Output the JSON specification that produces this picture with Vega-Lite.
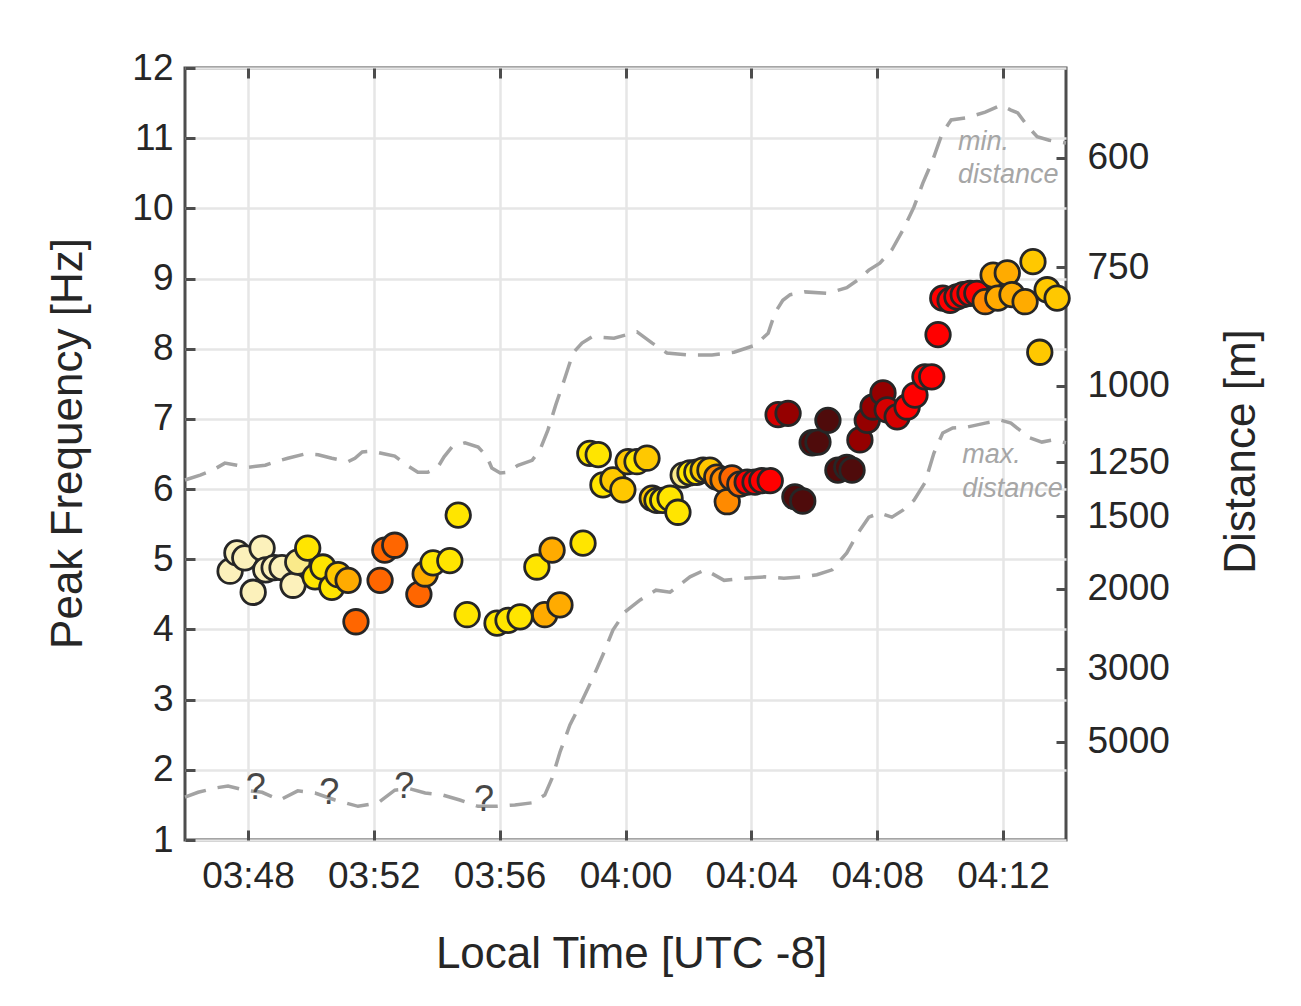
{
  "$schema": "https://vega.github.io/schema/vega-lite/v6.json",
  "width": 881,
  "height": 772,
  "autosize": {"type": "none"},
  "padding": {"left": 185, "top": 68, "right": 235, "bottom": 166},
  "background": "white",
  "config": {
    "font": "Liberation Sans",
    "view": {"stroke": "#4d4d4d", "strokeWidth": 3},
    "axis": {
      "labelFont": "Liberation Sans",
      "titleFont": "Liberation Sans",
      "labelFontSize": 37,
      "titleFontSize": 44,
      "labelColor": "#262626",
      "titleColor": "#262626",
      "titleFontWeight": "normal",
      "domain": false,
      "tickColor": "#4d4d4d",
      "tickWidth": 3,
      "tickSize": -10,
      "gridColor": "#e6e6e6",
      "gridWidth": 2.5,
      "labelOverlap": false
    }
  },
  "datasets": {
    "pts": [
      {"t":"03:47:26","f":4.83,"c":1},{"t":"03:47:39","f":5.09,"c":1},{"t":"03:47:54","f":5.02,"c":1},{"t":"03:48:10","f":4.53,"c":1},
      {"t":"03:48:27","f":5.16,"c":1},{"t":"03:48:34","f":4.85,"c":1},{"t":"03:48:50","f":4.88,"c":1},{"t":"03:49:05","f":4.88,"c":1},
      {"t":"03:49:26","f":4.63,"c":1},{"t":"03:49:35","f":4.96,"c":2},{"t":"03:49:54","f":5.16,"c":3},{"t":"03:50:08","f":4.75,"c":3},
      {"t":"03:50:23","f":4.89,"c":3},{"t":"03:50:40","f":4.60,"c":3},{"t":"03:50:52","f":4.78,"c":4},{"t":"03:51:11","f":4.70,"c":5},
      {"t":"03:51:26","f":4.11,"c":7},{"t":"03:52:12","f":4.70,"c":7},{"t":"03:52:21","f":5.13,"c":7},{"t":"03:52:40","f":5.20,"c":7},
      {"t":"03:53:26","f":4.50,"c":7},{"t":"03:53:38","f":4.79,"c":5},{"t":"03:53:53","f":4.95,"c":3},{"t":"03:54:25","f":4.98,"c":3},
      {"t":"03:54:41","f":5.63,"c":3},{"t":"03:54:58","f":4.21,"c":3},{"t":"03:55:55","f":4.09,"c":3},{"t":"03:56:16","f":4.13,"c":3},
      {"t":"03:56:39","f":4.18,"c":3},{"t":"03:57:11","f":4.89,"c":3},{"t":"03:57:26","f":4.21,"c":5},{"t":"03:57:40","f":5.13,"c":5},
      {"t":"03:57:55","f":4.35,"c":5},{"t":"03:58:39","f":5.23,"c":3},{"t":"03:58:52","f":6.51,"c":3},{"t":"03:59:08","f":6.49,"c":3},
      {"t":"03:59:17","f":6.06,"c":3},{"t":"03:59:36","f":6.13,"c":4},{"t":"03:59:55","f":5.99,"c":4},{"t":"04:00:05","f":6.39,"c":4},
      {"t":"04:00:22","f":6.39,"c":3},{"t":"04:00:41","f":6.44,"c":4},{"t":"04:00:51","f":5.87,"c":4},{"t":"04:01:00","f":5.84,"c":3},
      {"t":"04:01:11","f":5.84,"c":3},{"t":"04:01:25","f":5.87,"c":3},{"t":"04:01:40","f":5.67,"c":3},{"t":"04:01:50","f":6.20,"c":2},
      {"t":"04:02:03","f":6.23,"c":3},{"t":"04:02:16","f":6.24,"c":3},{"t":"04:02:28","f":6.27,"c":4},{"t":"04:02:41","f":6.27,"c":4},
      {"t":"04:02:54","f":6.17,"c":6},{"t":"04:03:06","f":6.13,"c":6},{"t":"04:03:14","f":5.82,"c":6},{"t":"04:03:23","f":6.16,"c":7},
      {"t":"04:03:38","f":6.07,"c":7},{"t":"04:03:52","f":6.10,"c":8},{"t":"04:04:07","f":6.10,"c":8},{"t":"04:04:20","f":6.12,"c":8},
      {"t":"04:04:36","f":6.12,"c":8},{"t":"04:04:51","f":7.06,"c":9},{"t":"04:05:10","f":7.08,"c":10},{"t":"04:05:23","f":5.89,"c":11},
      {"t":"04:05:38","f":5.83,"c":11},{"t":"04:05:56","f":6.66,"c":11},{"t":"04:06:07","f":6.67,"c":11},{"t":"04:06:26","f":6.98,"c":11},
      {"t":"04:06:45","f":6.27,"c":11},{"t":"04:07:02","f":6.31,"c":11},{"t":"04:07:12","f":6.27,"c":11},{"t":"04:07:27","f":6.70,"c":10},
      {"t":"04:07:41","f":6.98,"c":10},{"t":"04:07:52","f":7.17,"c":10},{"t":"04:08:11","f":7.37,"c":10},{"t":"04:08:19","f":7.13,"c":9},
      {"t":"04:08:38","f":7.03,"c":9},{"t":"04:08:57","f":7.17,"c":8},{"t":"04:09:12","f":7.34,"c":8},{"t":"04:09:31","f":7.60,"c":8},
      {"t":"04:09:44","f":7.60,"c":8},{"t":"04:09:56","f":8.20,"c":8},{"t":"04:10:05","f":8.72,"c":8},{"t":"04:10:19","f":8.69,"c":8},
      {"t":"04:10:32","f":8.74,"c":8},{"t":"04:10:44","f":8.77,"c":8},{"t":"04:10:57","f":8.79,"c":8},{"t":"04:11:10","f":8.79,"c":8},
      {"t":"04:11:26","f":8.67,"c":6},{"t":"04:11:41","f":9.05,"c":5},{"t":"04:11:50","f":8.72,"c":5},{"t":"04:12:08","f":9.08,"c":5},
      {"t":"04:12:17","f":8.77,"c":5},{"t":"04:12:42","f":8.67,"c":5},{"t":"04:12:57","f":9.24,"c":4},{"t":"04:13:10","f":7.95,"c":4},
      {"t":"04:13:24","f":8.84,"c":4},{"t":"04:13:43","f":8.72,"c":4}
    ],
    "dist": [
      {"s":"min","t":"03:46:00","f":6.13},{"s":"min","t":"03:46:29","f":6.20},{"s":"min","t":"03:46:53","f":6.27},{"s":"min","t":"03:47:16","f":6.37},
      {"s":"min","t":"03:47:39","f":6.34},{"s":"min","t":"03:48:00","f":6.31},{"s":"min","t":"03:48:33","f":6.34},{"s":"min","t":"03:48:52","f":6.39},
      {"s":"min","t":"03:49:16","f":6.44},{"s":"min","t":"03:49:49","f":6.50},{"s":"min","t":"03:50:14","f":6.49},{"s":"min","t":"03:50:40","f":6.44},
      {"s":"min","t":"03:51:11","f":6.39},{"s":"min","t":"03:51:24","f":6.44},{"s":"min","t":"03:51:38","f":6.53},{"s":"min","t":"03:51:57","f":6.54},
      {"s":"min","t":"03:52:21","f":6.50},{"s":"min","t":"03:52:40","f":6.47},{"s":"min","t":"03:53:03","f":6.34},{"s":"min","t":"03:53:24","f":6.24},
      {"s":"min","t":"03:53:43","f":6.24},{"s":"min","t":"03:54:02","f":6.31},{"s":"min","t":"03:54:14","f":6.46},{"s":"min","t":"03:54:29","f":6.60},
      {"s":"min","t":"03:54:54","f":6.66},{"s":"min","t":"03:55:19","f":6.60},{"s":"min","t":"03:55:36","f":6.46},{"s":"min","t":"03:55:45","f":6.30},
      {"s":"min","t":"03:56:01","f":6.23},{"s":"min","t":"03:56:14","f":6.24},{"s":"min","t":"03:56:35","f":6.34},{"s":"min","t":"03:57:02","f":6.41},
      {"s":"min","t":"03:57:17","f":6.56},{"s":"min","t":"03:57:32","f":6.84},{"s":"min","t":"03:57:47","f":7.20},{"s":"min","t":"03:58:03","f":7.55},
      {"s":"min","t":"03:58:20","f":7.94},{"s":"min","t":"03:58:37","f":8.08},{"s":"min","t":"03:58:56","f":8.17},{"s":"min","t":"03:59:38","f":8.15},
      {"s":"min","t":"04:00:22","f":8.24},{"s":"min","t":"04:00:51","f":8.08},{"s":"min","t":"04:01:19","f":7.94},{"s":"min","t":"04:02:01","f":7.91},
      {"s":"min","t":"04:02:45","f":7.91},{"s":"min","t":"04:03:27","f":7.95},{"s":"min","t":"04:04:07","f":8.05},{"s":"min","t":"04:04:32","f":8.22},
      {"s":"min","t":"04:04:45","f":8.51},{"s":"min","t":"04:05:00","f":8.69},{"s":"min","t":"04:05:14","f":8.77},{"s":"min","t":"04:05:42","f":8.81},
      {"s":"min","t":"04:06:26","f":8.79},{"s":"min","t":"04:07:02","f":8.87},{"s":"min","t":"04:07:23","f":8.98},{"s":"min","t":"04:07:44","f":9.12},
      {"s":"min","t":"04:08:05","f":9.22},{"s":"min","t":"04:08:28","f":9.41},{"s":"min","t":"04:08:49","f":9.69},{"s":"min","t":"04:09:10","f":10.02},
      {"s":"min","t":"04:09:27","f":10.36},{"s":"min","t":"04:09:46","f":10.69},{"s":"min","t":"04:10:04","f":11.07},{"s":"min","t":"04:10:21","f":11.26},
      {"s":"min","t":"04:10:49","f":11.29},{"s":"min","t":"04:11:26","f":11.37},{"s":"min","t":"04:11:56","f":11.47},{"s":"min","t":"04:12:15","f":11.40},
      {"s":"min","t":"04:12:28","f":11.36},{"s":"min","t":"04:12:48","f":11.16},{"s":"min","t":"04:13:05","f":11.02},{"s":"min","t":"04:13:28","f":10.97},
      {"s":"min","t":"04:14:00","f":10.93},
      {"s":"max","t":"03:46:00","f":1.61},{"s":"max","t":"03:46:25","f":1.68},{"s":"max","t":"03:46:57","f":1.74},{"s":"max","t":"03:47:22","f":1.77},
      {"s":"max","t":"03:47:54","f":1.71},{"s":"max","t":"03:48:27","f":1.68},{"s":"max","t":"03:49:01","f":1.57},{"s":"max","t":"03:49:35","f":1.70},
      {"s":"max","t":"03:50:08","f":1.67},{"s":"max","t":"03:50:46","f":1.57},{"s":"max","t":"03:51:30","f":1.48},{"s":"max","t":"03:52:08","f":1.53},
      {"s":"max","t":"03:52:40","f":1.71},{"s":"max","t":"03:53:09","f":1.73},{"s":"max","t":"03:53:38","f":1.67},{"s":"max","t":"03:54:12","f":1.64},
      {"s":"max","t":"03:54:44","f":1.57},{"s":"max","t":"03:55:19","f":1.48},{"s":"max","t":"03:55:55","f":1.48},{"s":"max","t":"03:56:29","f":1.50},
      {"s":"max","t":"03:57:02","f":1.53},{"s":"max","t":"03:57:26","f":1.64},{"s":"max","t":"03:57:40","f":1.88},{"s":"max","t":"03:57:55","f":2.25},
      {"s":"max","t":"03:58:14","f":2.64},{"s":"max","t":"03:58:33","f":2.92},{"s":"max","t":"03:58:56","f":3.28},{"s":"max","t":"03:59:17","f":3.64},
      {"s":"max","t":"03:59:36","f":3.99},{"s":"max","t":"03:59:59","f":4.25},{"s":"max","t":"04:00:28","f":4.42},{"s":"max","t":"04:00:58","f":4.56},
      {"s":"max","t":"04:01:25","f":4.53},{"s":"max","t":"04:02:03","f":4.75},{"s":"max","t":"04:02:32","f":4.85},{"s":"max","t":"04:03:08","f":4.70},
      {"s":"max","t":"04:03:44","f":4.73},{"s":"max","t":"04:04:26","f":4.75},{"s":"max","t":"04:05:02","f":4.73},{"s":"max","t":"04:05:38","f":4.75},
      {"s":"max","t":"04:06:05","f":4.78},{"s":"max","t":"04:06:34","f":4.85},{"s":"max","t":"04:07:02","f":5.09},{"s":"max","t":"04:07:23","f":5.37},
      {"s":"max","t":"04:07:44","f":5.60},{"s":"max","t":"04:08:05","f":5.66},{"s":"max","t":"04:08:28","f":5.60},{"s":"max","t":"04:08:49","f":5.70},
      {"s":"max","t":"04:09:10","f":5.84},{"s":"max","t":"04:09:31","f":6.09},{"s":"max","t":"04:09:48","f":6.51},{"s":"max","t":"04:10:05","f":6.80},
      {"s":"max","t":"04:10:24","f":6.87},{"s":"max","t":"04:10:49","f":6.88},{"s":"max","t":"04:11:26","f":6.94},{"s":"max","t":"04:11:56","f":6.98},
      {"s":"max","t":"04:12:15","f":6.94},{"s":"max","t":"04:12:32","f":6.84},{"s":"max","t":"04:12:51","f":6.73},{"s":"max","t":"04:13:14","f":6.67},
      {"s":"max","t":"04:13:35","f":6.70},{"s":"max","t":"04:14:00","f":6.66}
    ],
    "notes": [
      {"t":"04:10:34","f":10.83,"label":"min."},
      {"t":"04:10:34","f":10.36,"label":"distance"},
      {"t":"04:10:42","f":6.37,"label":"max."},
      {"t":"04:10:42","f":5.89,"label":"distance"}
    ],
    "qs": [
      {"t":"03:48:15","f":1.74,"label":"?"},
      {"t":"03:50:35","f":1.67,"label":"?"},
      {"t":"03:52:58","f":1.76,"label":"?"},
      {"t":"03:55:30","f":1.57,"label":"?"}
    ],
    "ticks": [
      {"d":600},{"d":750},{"d":1000},{"d":1250},{"d":1500},{"d":2000},{"d":3000},{"d":5000}
    ]
  },
  "layer": [
    {
      "encoding": {
        "x": {
          "field": "t", "type": "temporal",
          "scale": {"type": "utc", "domain": [
            {"year":1900,"month":1,"date":1,"hours":3,"minutes":46,"utc":true},
            {"year":1900,"month":1,"date":1,"hours":4,"minutes":14,"utc":true}]},
          "axis": {
            "orient": "bottom",
            "format": "%H:%M",
            "values": [
              {"year":1900,"month":1,"date":1,"hours":3,"minutes":48,"utc":true},
              {"year":1900,"month":1,"date":1,"hours":3,"minutes":52,"utc":true},
              {"year":1900,"month":1,"date":1,"hours":3,"minutes":56,"utc":true},
              {"year":1900,"month":1,"date":1,"hours":4,"minutes":0,"utc":true},
              {"year":1900,"month":1,"date":1,"hours":4,"minutes":4,"utc":true},
              {"year":1900,"month":1,"date":1,"hours":4,"minutes":8,"utc":true},
              {"year":1900,"month":1,"date":1,"hours":4,"minutes":12,"utc":true}],
            "grid": true,
            "labelPadding": 28,
            "title": "Local Time [UTC -8]",
            "titleX": 446, "titleY": 127,
            "titleBaseline": "alphabetic", "titleAlign": "center"
          }
        },
        "y": {
          "field": "f", "type": "quantitative",
          "scale": {"domain": [1, 12], "nice": false, "zero": false},
          "axis": {
            "orient": "left",
            "values": [1,2,3,4,5,6,7,8,9,10,11,12],
            "format": "d",
            "grid": true,
            "labelPadding": 22,
            "title": "Peak Frequency [Hz]",
            "titleAngle": 270,
            "titleX": -104, "titleY": 375,
            "titleBaseline": "alphabetic", "titleAlign": "center"
          }
        }
      },
      "layer": [
        {
          "data": {"name": "dist", "format": {"parse": {"t": "utc:'%H:%M:%S'"}}},
          "mark": {"type": "line", "color": "#a3a3a3", "strokeWidth": 3.5, "strokeDash": [22, 12]},
          "encoding": {"detail": {"field": "s", "type": "nominal"}}
        },
        {
          "data": {"name": "pts", "format": {"parse": {"t": "utc:'%H:%M:%S'"}}},
          "mark": {"type": "circle", "size": 600, "stroke": "#262626", "strokeWidth": 2.8, "opacity": 1},
          "encoding": {
            "fill": {
              "field": "c", "type": "ordinal",
              "scale": {
                "domain": [1,2,3,4,5,6,7,8,9,10,11],
                "range": ["#fcf1bb","#faea8a","#ffe500","#ffc800","#ffab00","#ff8a00","#ff6600","#ff0000","#d40000","#950000","#4f0b0b"]
              },
              "legend": null
            }
          }
        },
        {
          "data": {"name": "notes", "format": {"parse": {"t": "utc:'%H:%M:%S'"}}},
          "mark": {"type": "text", "align": "left", "baseline": "alphabetic", "fontStyle": "italic", "fontSize": 27, "color": "#a6a6a6", "font": "Liberation Sans"},
          "encoding": {"text": {"field": "label"}}
        }
      ]
    },
    {
      "data": {"name": "qs", "format": {"parse": {"t": "utc:'%H:%M:%S'"}}},
      "mark": {"type": "text", "align": "center", "baseline": "middle", "fontSize": 36, "color": "#474747", "font": "Liberation Sans"},
      "encoding": {
        "x": {
          "field": "t", "type": "temporal",
          "scale": {"type": "utc"},
          "axis": {
            "orient": "top",
            "labels": false,
            "title": null,
            "grid": false,
            "values": [
              {"year":1900,"month":1,"date":1,"hours":3,"minutes":48,"utc":true},
              {"year":1900,"month":1,"date":1,"hours":3,"minutes":52,"utc":true},
              {"year":1900,"month":1,"date":1,"hours":3,"minutes":56,"utc":true},
              {"year":1900,"month":1,"date":1,"hours":4,"minutes":0,"utc":true},
              {"year":1900,"month":1,"date":1,"hours":4,"minutes":4,"utc":true},
              {"year":1900,"month":1,"date":1,"hours":4,"minutes":8,"utc":true},
              {"year":1900,"month":1,"date":1,"hours":4,"minutes":12,"utc":true}]
          }
        },
        "y": {"field": "f", "type": "quantitative", "scale": {"domain": [1, 12], "nice": false, "zero": false}, "axis": null},
        "text": {"field": "label"}
      }
    },
    {
      "data": {"name": "ticks"},
      "mark": {"type": "point", "opacity": 0},
      "encoding": {
        "y": {
          "field": "d", "type": "quantitative",
          "scale": {"type": "pow", "exponent": -0.706, "domain": [17270, 511.4], "nice": false, "zero": false},
          "axis": {
            "orient": "right",
            "values": [600, 750, 1000, 1250, 1500, 2000, 3000, 5000],
            "format": "d",
            "grid": false,
            "labelPadding": 31,
            "title": "Distance [m]",
            "titleAngle": 270,
            "titleX": 188, "titleY": 383,
            "titleBaseline": "alphabetic", "titleAlign": "center"
          }
        }
      }
    }
  ],
  "resolve": {"scale": {"y": "independent"}, "axis": {"x": "independent"}}
}
